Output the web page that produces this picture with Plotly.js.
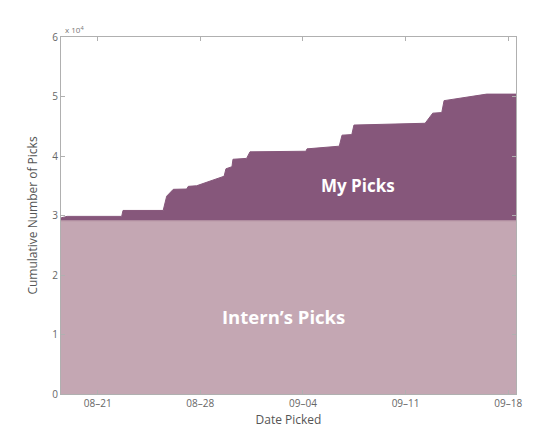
<!DOCTYPE html>
<html>
<head>
<meta charset="utf-8">
<script src="https://cdn.plot.ly/plotly-3.0.1.min.js"></script>
<style>body{margin:0;background:#fff;}#chart{width:550px;height:440px;}</style>
</head>
<body>
<div id="chart"></div>
<script>
// cumulative picks
const myDates = [
	'2013-08-18 12:00', '2013-08-18 22:00', '2013-08-22 15:20', '2013-08-22 17:30',
	'2013-08-25 11:15', '2013-08-25 17:00', '2013-08-26 03:50', '2013-08-27 01:40',
	'2013-08-27 04:20', '2013-08-27 18:00', '2013-08-29 15:00', '2013-08-29 18:00',
	'2013-08-30 03:50', '2013-08-30 05:30', '2013-08-31 03:50', '2013-08-31 09:20',
	'2013-09-04 05:00', '2013-09-04 06:40', '2013-09-06 11:30', '2013-09-06 16:00',
	'2013-09-07 08:00', '2013-09-07 11:30', '2013-09-12 08:00', '2013-09-12 20:30',
	'2013-09-13 11:15', '2013-09-13 15:00', '2013-09-16 12:45', '2013-09-18 12:45'
];
const myPicks = [
	29600, 29850, 29850, 30850,
	30850, 33250, 34400, 34450,
	34900, 35000, 36600, 37850,
	38200, 39450, 39600, 40700,
	40800, 41200, 41650, 43500,
	43600, 45200, 45500, 47200,
	47300, 49300, 50400, 50400
];
const internDates = ['2013-08-18 12:00', '2013-09-18 12:45'];
const internPicks = [29100, 29100];

const xTicks = ['2013-08-21', '2013-08-28', '2013-09-04', '2013-09-11', '2013-09-18'];
const xTickText = ['08\u201321', '08\u201328', '09\u201304', '09\u201311', '09\u201318'];
const yTicks = [0, 10000, 20000, 30000, 40000, 50000, 60000];
const yTickText = ['0', '1', '2', '3', '4', '5', '6'];

const intern = {
	x: internDates, y: internPicks,
	type: 'scatter', mode: 'lines',
	fill: 'tozeroy', fillcolor: '#c4a7b3',
	line: {color: '#b896a5', width: 1},
	hoverinfo: 'skip'
};
const mine = {
	x: myDates, y: myPicks,
	type: 'scatter', mode: 'lines',
	fill: 'tonexty', fillcolor: '#86577b',
	line: {color: '#86577b', width: 1},
	hoverinfo: 'skip'
};

const axisStyle = {
	showgrid: false, zeroline: false,
	showline: true, linecolor: '#b0b0b0', linewidth: 1,
	mirror: 'ticks', ticks: 'inside', ticklen: 4, tickcolor: '#b0b0b0',
	tickfont: {family: 'Open Sans, sans-serif', size: 10, color: '#666'}
};

const layout = {
	width: 550, height: 440,
	margin: {l: 61, r: 34, t: 37, b: 46},
	paper_bgcolor: '#fff', plot_bgcolor: '#fff',
	showlegend: false,
	font: {family: 'Open Sans, sans-serif', color: '#555'},
	xaxis: Object.assign({}, axisStyle, {
		type: 'date',
		range: ['2013-08-18 12:00', '2013-09-18 12:45'],
		tickvals: xTicks, ticktext: xTickText,
		title: {text: 'Date Picked', font: {size: 12, color: '#555'}, standoff: 6}
	}),
	yaxis: Object.assign({}, axisStyle, {
		range: [0, 60000],
		tickvals: yTicks, ticktext: yTickText,
		title: {text: 'Cumulative Number of Picks', font: {size: 12, color: '#555'}, standoff: 12}
	}),
	annotations: [
		{text: 'x 10<sup>4</sup>', xref: 'paper', yref: 'paper', x: 0.005, y: 1.0,
			xanchor: 'left', yanchor: 'bottom', showarrow: false,
			font: {size: 8, color: '#777'}},
		{text: '<b>My Picks</b>', x: '2013-09-07 18:00', y: 35100, showarrow: false,
			font: {size: 17, color: '#fff'}},
		{text: '<b>Intern\u2019s Picks</b>', x: '2013-09-02 16:00', y: 13100, showarrow: false,
			font: {size: 18.5, color: '#fff'}}
	]
};

Plotly.newPlot('chart', [intern, mine], layout, {staticPlot: true});
</script>
</body>
</html>
